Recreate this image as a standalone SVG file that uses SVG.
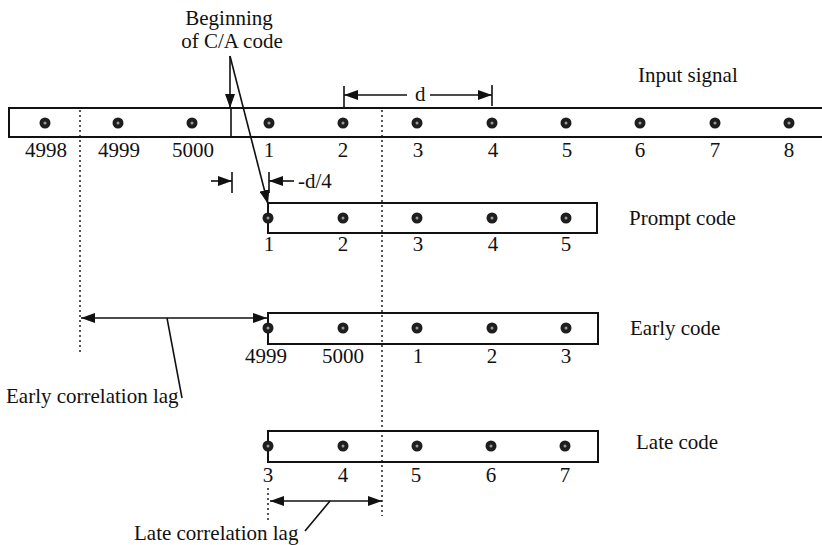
<svg xmlns="http://www.w3.org/2000/svg" width="822" height="545" viewBox="0 0 822 545" font-family="'Liberation Serif', 'DejaVu Serif', serif">
<style>
text{font-family:'Liberation Serif','DejaVu Serif',serif;font-size:21px;fill:#111}
.n{text-anchor:middle}
.bar{fill:#fff;stroke:#111;stroke-width:2}
.ln{stroke:#111;stroke-width:1.6;fill:none}
.dot{stroke:#111;stroke-width:1.4;stroke-dasharray:2 3;fill:none}
.dt{fill:#1e1e1e}
</style>
<defs>
<marker id="ah" viewBox="0 0 14 10" refX="14" refY="5" markerWidth="14" markerHeight="10" markerUnits="userSpaceOnUse" orient="auto-start-reverse">
<path d="M0,0 L14,5 L0,10 Z" fill="#111"/>
</marker>
<g id="pt"><circle r="5.5" class="dt"/><circle r="1.5" fill="#999"/></g>
</defs>
<rect width="822" height="545" fill="#fff"/>

<g id="input-signal">
<rect class="bar" x="9" y="108" width="830" height="29"/>
<line class="ln" x1="231" y1="108" x2="231" y2="137"/>
<use href="#pt" x="45" y="123"/><use href="#pt" x="118" y="123"/><use href="#pt" x="192" y="123"/>
<use href="#pt" x="269" y="123"/><use href="#pt" x="343" y="123"/><use href="#pt" x="417" y="123"/>
<use href="#pt" x="492" y="123"/><use href="#pt" x="566" y="123"/><use href="#pt" x="640" y="123"/>
<use href="#pt" x="715" y="123"/><use href="#pt" x="789" y="123"/>
<text class="n" x="46" y="157">4998</text><text class="n" x="119" y="157">4999</text><text class="n" x="193" y="157">5000</text>
<text class="n" x="269" y="157">1</text><text class="n" x="343" y="157">2</text><text class="n" x="418" y="157">3</text>
<text class="n" x="493" y="157">4</text><text class="n" x="567" y="157">5</text><text class="n" x="640" y="157">6</text>
<text class="n" x="715" y="157">7</text><text class="n" x="789" y="157">8</text>
<text x="638" y="82">Input signal</text>
</g>

<g id="prompt-code">
<rect class="bar" x="268" y="203" width="329" height="30"/>
<use href="#pt" x="268" y="218"/><use href="#pt" x="343" y="218"/><use href="#pt" x="417" y="218"/>
<use href="#pt" x="492" y="218"/><use href="#pt" x="566" y="218"/>
<text class="n" x="269" y="251">1</text><text class="n" x="343" y="251">2</text><text class="n" x="418" y="251">3</text>
<text class="n" x="493" y="251">4</text><text class="n" x="566" y="251">5</text>
<text x="629" y="225">Prompt code</text>
</g>

<g id="early-code">
<rect class="bar" x="268" y="313" width="330" height="31"/>
<use href="#pt" x="268" y="328"/><use href="#pt" x="343" y="328"/><use href="#pt" x="417" y="328"/>
<use href="#pt" x="492" y="328"/><use href="#pt" x="566" y="328"/>
<text class="n" x="266" y="363">4999</text><text class="n" x="343" y="363">5000</text><text class="n" x="418" y="363">1</text>
<text class="n" x="492" y="363">2</text><text class="n" x="566" y="363">3</text>
<text x="630" y="335">Early code</text>
</g>

<g id="late-code">
<rect class="bar" x="268" y="431" width="330" height="31"/>
<use href="#pt" x="268" y="446"/><use href="#pt" x="343" y="446"/><use href="#pt" x="417" y="446"/>
<use href="#pt" x="491" y="446"/><use href="#pt" x="565" y="446"/>
<text class="n" x="268" y="482">3</text><text class="n" x="343" y="482">4</text><text class="n" x="416" y="482">5</text>
<text class="n" x="491" y="482">6</text><text class="n" x="565" y="482">7</text>
<text x="636" y="449">Late code</text>
</g>

<g id="labels">
<text class="n" x="229" y="25">Beginning</text>
<text class="n" x="232" y="48">of C/A code</text>
<text x="298" y="188">-d/4</text>
<text x="415" y="101">d</text>
<text x="6" y="403">Early correlation lag</text>
<text x="134" y="540">Late correlation lag</text>
</g>

<g id="connectors">
<line class="dot" x1="80" y1="110" x2="80" y2="352"/>
<line class="dot" x1="382" y1="110" x2="382" y2="516"/>
<line class="dot" x1="268" y1="488" x2="268" y2="522"/>
<line class="ln" x1="230" y1="56" x2="230" y2="108" marker-end="url(#ah)"/>
<line class="ln" x1="230" y1="56" x2="268" y2="204" marker-end="url(#ah)"/>
<line class="ln" x1="344" y1="86" x2="344" y2="107"/>
<line class="ln" x1="492" y1="85" x2="492" y2="106"/>
<line class="ln" x1="407" y1="95" x2="344" y2="95" marker-end="url(#ah)"/>
<line class="ln" x1="430" y1="95" x2="492" y2="95" marker-end="url(#ah)"/>
<line class="ln" x1="232" y1="172" x2="232" y2="193"/>
<line class="ln" x1="269" y1="172" x2="269" y2="193"/>
<line class="ln" x1="211" y1="181" x2="232" y2="181" marker-end="url(#ah)"/>
<line class="ln" x1="294" y1="181" x2="269" y2="181" marker-end="url(#ah)"/>
<line class="ln" x1="81" y1="318" x2="267" y2="318" marker-start="url(#ah)" marker-end="url(#ah)"/>
<line class="ln" x1="167" y1="318" x2="182" y2="398"/>
<line class="ln" x1="270" y1="501" x2="382" y2="501" marker-start="url(#ah)" marker-end="url(#ah)"/>
<line class="ln" x1="330" y1="501" x2="305" y2="531"/>
</g>
</svg>
